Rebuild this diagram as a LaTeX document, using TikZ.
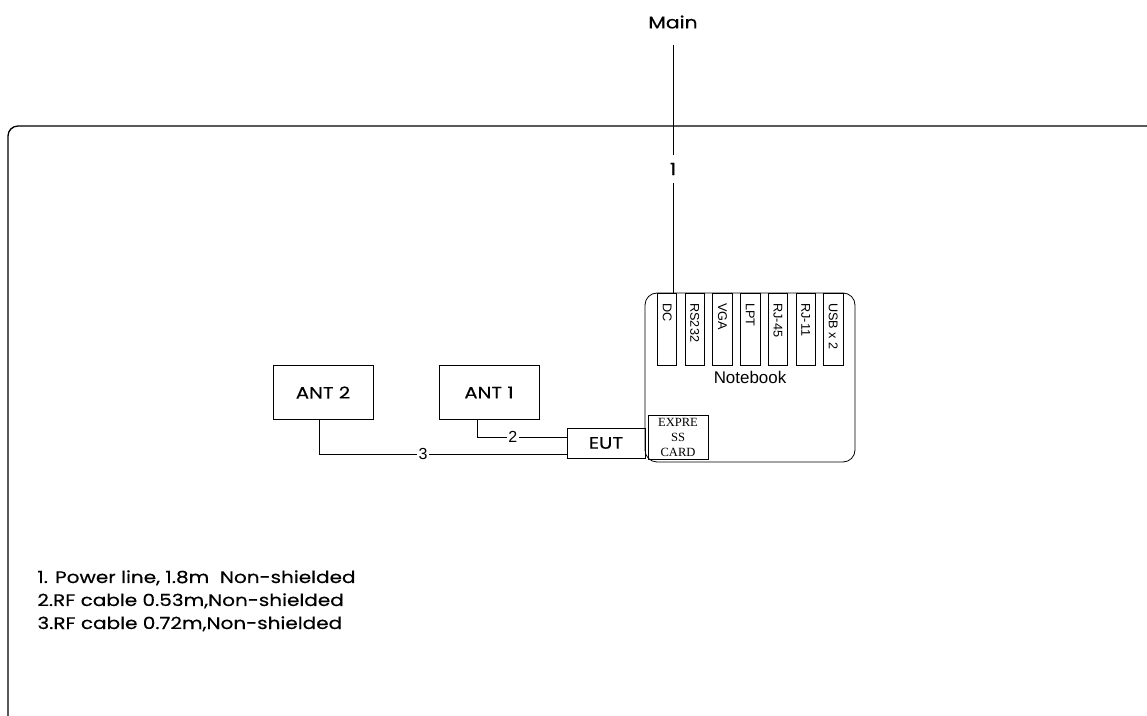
\documentclass[tikz,border=0pt]{standalone}
\usepackage{fontspec}
\setmainfont{Poppins}[FakeStretch=1.2, FakeBold=0.4]
\newfontfamily\arialfont{Liberation Sans}
\newfontfamily\timesfont{Liberation Serif}

\tikzset{
	box/.style={draw, shape=rectangle, line width=0.6pt, inner sep=0pt},
	antbox/.style={box, minimum width=75pt, minimum height=40.5pt, font=\fontsize{12.3}{14}\selectfont},
	portbox/.style={box, minimum width=14.6pt, minimum height=54pt},
	cablelbl/.style={fill=white, inner sep=1pt, font=\arialfont\fontsize{12}{13}\selectfont},
	legend/.style={anchor=base west, inner sep=0pt, font=\fontsize{12.5}{14}\selectfont}
}

\begin{document}
\begin{tikzpicture}[x=0.75pt, y=-0.75pt, line width=0.6pt]
			\useasboundingbox (0, 0) rectangle (1147, 716);
			% frame
			\draw[line width=1pt, rounded corners=7.5pt] (8, 716) -- (8, 126) -- (1147, 126);
			% notebook
			\node[box, rounded corners=9pt, minimum width=157.5pt, minimum height=126.75pt, font=\arialfont\fontsize{12.7}{14}\selectfont](nb) at (750, 377.5){Notebook};
			\foreach \lbl [count=\i] in {DC, RS232, VGA, LPT, RJ-45, RJ-11, USB x 2} {
				\node[portbox, anchor=north west](port\i) at (657 + 27.7*\i - 27.7, 293){};
				\node[anchor=west, rotate=-90, inner sep=0pt, font=\arialfont\fontsize{9.5}{10}\selectfont](plbl\i) at ([yshift=-7.5pt]port\i.north){\lbl};
			}
			\node[box, minimum width=45pt, minimum height=33pt, align=center, font=\timesfont\fontsize{9.4}{11.25}\selectfont](card) at (678, 437){EXPRE\\SS\\CARD};
			% antennas and EUT
			\node[antbox](antB) at (323, 392.5){ANT 2};
			\node[antbox](antA) at (489, 392.5){ANT 1};
			\node[box, minimum width=58.5pt, minimum height=22.5pt, font=\fontsize{12.4}{15}\selectfont](eut) at (606, 443){EUT};
			\draw ([xshift=-9pt]antA.south) |- node[cablelbl, pos=0.7]{2} ([yshift=4.5pt]eut.west);
			\draw ([xshift=-3pt]antB.south) |- node[cablelbl, pos=0.71]{3} ([yshift=-8.25pt]eut.west);
			% power line
			\node[font=\fontsize{12.7}{14}\selectfont](mains) at (673, 22){Main};
			\node[inner sep=0pt, minimum height=21pt, font=\fontsize{12.5}{14}\selectfont](pw) at (673, 169){1};
			\draw (673, 45) -- (pw.north);
			\draw (pw.south) -- (pw |- nb.north);
			% legend
			\node[legend](l1) at (37, 583){1. Power line, 1.8m\ \ Non-shielded};
			\node[legend](l2) at (37, 606){2.RF cable 0.53m,Non-shielded};
			\node[legend](l3) at (37, 629){3.RF cable 0.72m,Non-shielded};
		\end{tikzpicture}
\end{document}
